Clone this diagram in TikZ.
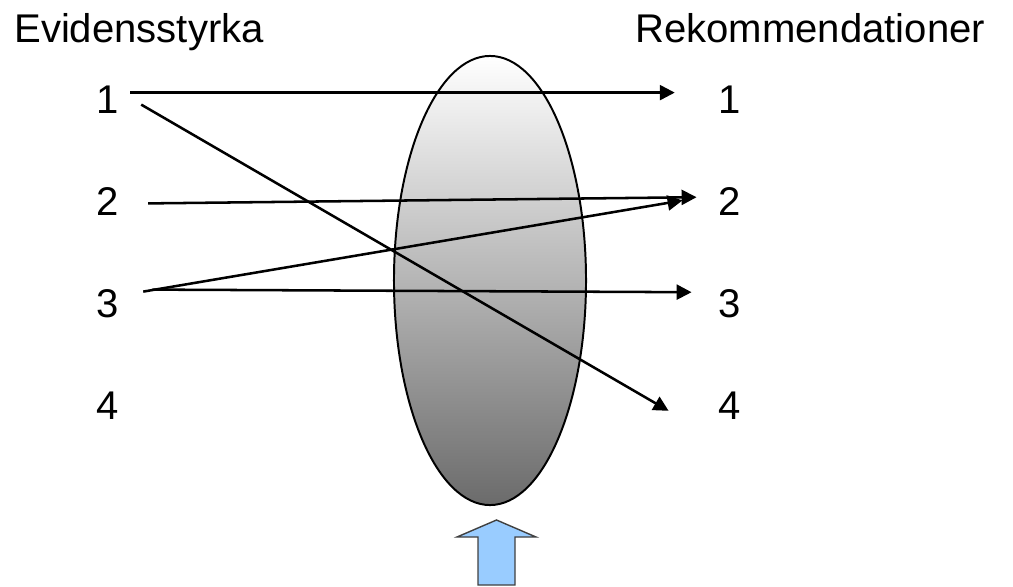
\documentclass[tikz,border=0pt]{standalone}
\usepackage{fontspec}
\setmainfont{Liberation Sans}
\usepackage{xcolor}
\usepackage{tikz}
\usetikzlibrary{shapes.geometric,arrows.meta,positioning}

\definecolor{pushblue}{HTML}{99CCFF}

\begin{document}
\begin{tikzpicture}[
    x=0.025cm, y=-0.025cm,
    label/.style={inner sep=0pt, font=\fontsize{28.5}{34}\selectfont},
    grade/.style={label, anchor=base},
    lens/.style={ellipse, draw, line width=1.4pt, minimum width=4.8cm, minimum height=11.225cm, inner sep=0pt, top color=white, bottom color=black!58},
    link/.style={-{Triangle[length=3.75mm,width=3.75mm]}, line width=1.8pt},
    push/.style={draw=black!75, line width=1pt, fill=pushblue}
]
    \useasboundingbox (0,0) rectangle (1013,586);

    \node[label, anchor=base west] (evid) at (14,42) {Evidensstyrka};
    \node[label, anchor=base west] (rek) at (635,42) {Rekommendationer};
    \foreach \i/\y in {1/113,2/215,3/317,4/419} {
        \node[grade] (l\i) at (108,\y) {\i};
        \node[grade] (r\i) at (730,\y) {\i};
    }

    \node[lens] (lens) at (490,280.5) {};

    \draw[link] ([shift={(10.8,-6.6)}]l1.east) -- ([shift={(-43.8,-6.6)}]r1.west);
    \draw[link] ([shift={(21.8,5.4)}]l1.east) -- ([shift={(-50,5.6)}]r4.west);
    \draw[link] ([shift={(28.8,2.4)}]l2.east) -- ([shift={(-22,-3.8)}]r2.west);
    \draw[link] ([shift={(23.8,-11.6)}]l3.east) -- ([shift={(-36,-0.6)}]r2.west);
    \draw[link] ([shift={(33,-13.6)}]l3.east) -- ([shift={(-27,-11)}]r3.west);

    \coordinate (push) at (496.5,585);
    \draw[push] (push) ++(-18.5,0) -- ++(0,-48) -- ++(-21,0) -- ++(39.5,-17) -- ++(39.5,17) -- ++(-21,0) -- ++(0,48) -- cycle;
\end{tikzpicture}
\end{document}
